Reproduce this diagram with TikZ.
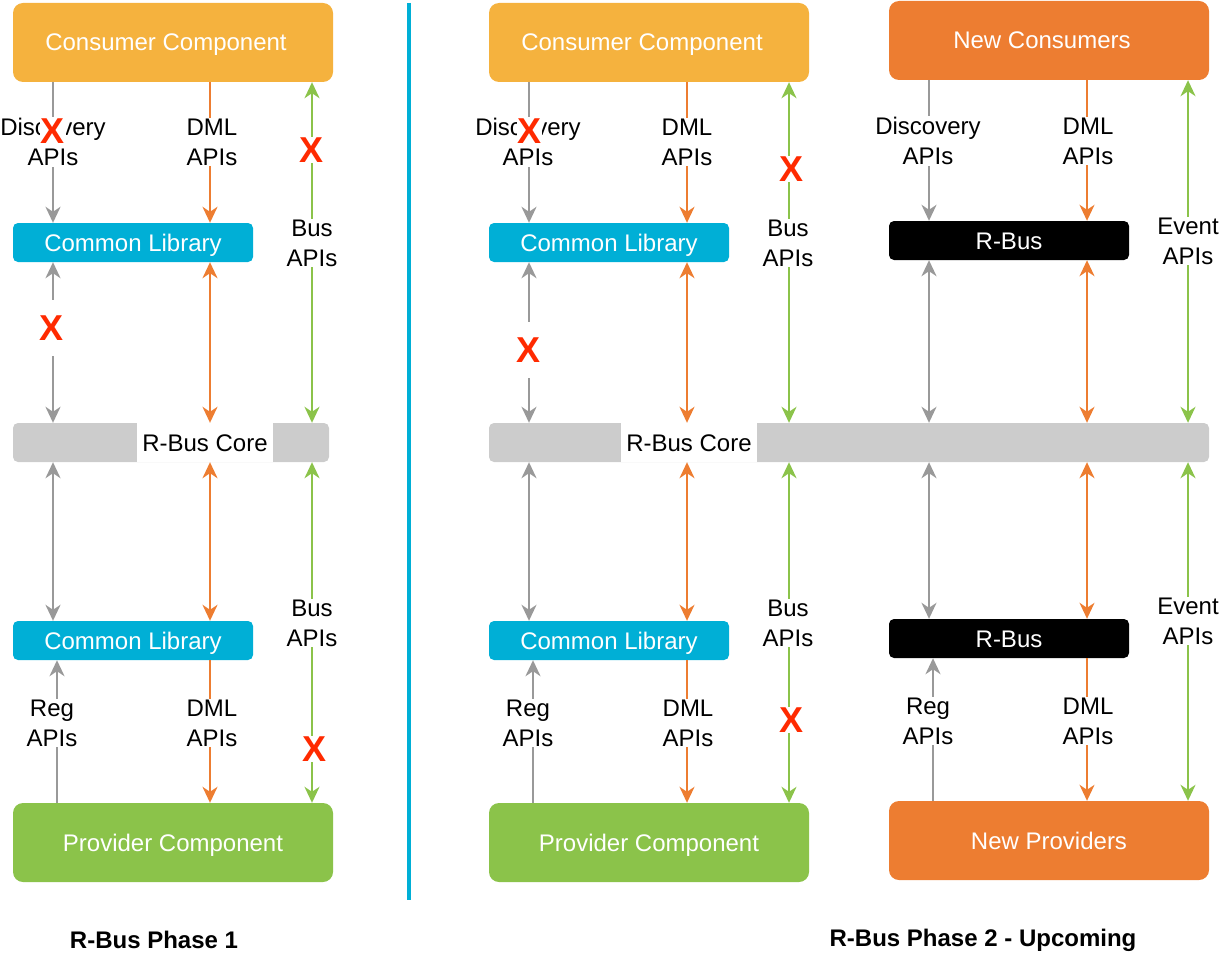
\documentclass[tikz,border=0pt]{standalone}
\usepackage{fontspec}
\setmainfont{Liberation Sans}
\usetikzlibrary{arrows.meta}
\definecolor{consor}{HTML}{F5B23E}
\definecolor{newor}{HTML}{ED7D31}
\definecolor{libblue}{HTML}{00AFD6}
\definecolor{provgreen}{HTML}{8BC34A}
\definecolor{coregray}{HTML}{CCCCCC}
\definecolor{arrgray}{HTML}{999999}
\definecolor{xred}{HTML}{FF2A00}
\begin{document}
\begin{tikzpicture}[x=1pt,y=-1pt,
  >={Stealth[length=16pt,width=15pt,inset=5pt]},
  txt/.style={font=\fontsize{24}{30}\selectfont},
  boxtxt/.style={txt,text height=17pt,text depth=0pt},
  bigbox/.style={boxtxt,rounded corners=10pt,inner sep=0pt,text=white,minimum width=320pt,minimum height=79pt},
  libbox/.style={boxtxt,rounded corners=5pt,inner sep=0pt,text=white,minimum width=240pt,minimum height=39pt},
  corebar/.style={rounded corners=5pt,inner sep=0pt,fill=coregray,minimum height=39pt},
  corelbl/.style={boxtxt,fill=white,inner sep=0pt,minimum width=136pt,minimum height=39pt},
  lbl/.style={txt,fill=white,align=center,inner sep=1pt},
  xm/.style={text=xred,font=\bfseries\fontsize{36}{36}\selectfont,fill=white,inner sep=0.5pt},
  xgap/.style={xm,inner ysep=16pt},
  gl/.style={draw=arrgray,line width=2pt},
  ol/.style={draw=newor,line width=2pt},
  ql/.style={draw=provgreen,line width=2pt},
  ttl/.style={font=\bfseries\fontsize{24}{28}\selectfont}
]
\useasboundingbox (0,0) rectangle (1230,960);

% columns
\coordinate (a1) at (53,0);  \coordinate (b1) at (210,0);  \coordinate (c1) at (312,0);  \coordinate (r1) at (57,0);
\coordinate (a2) at (529,0); \coordinate (b2) at (687,0);  \coordinate (c2) at (789,0);  \coordinate (r2) at (533,0);
\coordinate (a3) at (929,0); \coordinate (b3) at (1087,0); \coordinate (c3) at (1188,0); \coordinate (r3) at (933,0);

% divider
\coordinate (d1) at (409,3); \coordinate (d2) at (409,900);
\draw[libblue,line width=3.5pt] (d1) -- (d2);

% ---------- Phase 1 boxes ----------
\node[bigbox,fill=consor] (cc1) at (173,42.5) {Consumer Component\hspace*{14pt}};
\node[libbox,fill=libblue] (cl1a) at (133,242.5) {Common Library};
\node[corebar,minimum width=316pt] (core1) at (171,442.5) {};
\node[corelbl] (corel1) at (205,442.5) {R-Bus Core};
\node[libbox,fill=libblue] (cl1b) at (133,640.5) {Common Library};
\node[bigbox,fill=provgreen] (pc1) at (173,842.5) {Provider Component};

% ---------- Phase 2 boxes ----------
\node[bigbox,fill=consor] (cc2) at (649,42.5) {Consumer Component\hspace*{14pt}};
\node[libbox,fill=libblue] (cl2a) at (609,242.5) {Common Library};
\node[corebar,minimum width=720pt] (core2) at (849,442.5) {};
\node[corelbl] (corel2) at (689,442.5) {R-Bus Core};
\node[libbox,fill=libblue] (cl2b) at (609,640.5) {Common Library};
\node[bigbox,fill=provgreen] (pc2) at (649,842.5) {Provider Component};
\node[bigbox,fill=newor] (nc) at (1049,40.5) {New Consumers\hspace*{14pt}};
\node[libbox,fill=black] (rb1) at (1009,240.5) {R-Bus};
\node[libbox,fill=black] (rb2) at (1009,638.5) {R-Bus};
\node[bigbox,fill=newor] (np) at (1049,840.5) {New Providers};

% ---------- Phase 1 connectors ----------
\draw[gl,->] (cc1.south -| a1) -- (cl1a.north -| a1);
\draw[ol,->] (cc1.south -| b1) -- (cl1a.north -| b1);
\draw[ql,<->] (cc1.south -| c1) -- (core1.north -| c1);
\draw[gl,<->] (cl1a.south -| a1) -- (core1.north -| a1);
\draw[ol,<->] (cl1a.south -| b1) -- (core1.north -| b1);
\draw[gl,<->] (core1.south -| a1) -- (cl1b.north -| a1);
\draw[ol,<->] (core1.south -| b1) -- (cl1b.north -| b1);
\draw[ql,<->] (core1.south -| c1) -- (pc1.north -| c1);
\draw[gl,->] (pc1.north -| r1) -- (cl1b.south -| r1);
\draw[ol,->] (cl1b.south -| b1) -- (pc1.north -| b1);

\node[lbl] (l1a) at (53,142) {Discovery\\APIs};
\node[lbl] (l1b) at (212,142) {DML\\APIs};
\node[lbl] (l1c) at (312,243) {Bus\\APIs};
\node[lbl] (l1d) at (312,623) {Bus\\APIs};
\node[lbl] (l1e) at (52,723) {Reg\\APIs};
\node[lbl] (l1f) at (212,723) {DML\\APIs};
\node[xm] (x1a) at (53,131) {X};
\node[xm] (x1b) at (312,150) {X};
\node[xgap] (x1c) at (52,328) {X};
\node[xm] (x1d) at (315,749) {X};

% ---------- Phase 2 connectors ----------
\draw[gl,->] (cc2.south -| a2) -- (cl2a.north -| a2);
\draw[ol,->] (cc2.south -| b2) -- (cl2a.north -| b2);
\draw[ql,<->] (cc2.south -| c2) -- (core2.north -| c2);
\draw[gl,<->] (cl2a.south -| a2) -- (core2.north -| a2);
\draw[ol,<->] (cl2a.south -| b2) -- (core2.north -| b2);
\draw[gl,<->] (core2.south -| a2) -- (cl2b.north -| a2);
\draw[ol,<->] (core2.south -| b2) -- (cl2b.north -| b2);
\draw[ql,<->] (core2.south -| c2) -- (pc2.north -| c2);
\draw[gl,->] (pc2.north -| r2) -- (cl2b.south -| r2);
\draw[ol,->] (cl2b.south -| b2) -- (pc2.north -| b2);

\draw[gl,->] (nc.south -| a3) -- (rb1.north -| a3);
\draw[ol,->] (nc.south -| b3) -- (rb1.north -| b3);
\draw[ql,<->] (nc.south -| c3) -- (core2.north -| c3);
\draw[gl,<->] (rb1.south -| a3) -- (core2.north -| a3);
\draw[ol,<->] (rb1.south -| b3) -- (core2.north -| b3);
\draw[gl,<->] (core2.south -| a3) -- (rb2.north -| a3);
\draw[ol,<->] (core2.south -| b3) -- (rb2.north -| b3);
\draw[ql,<->] (core2.south -| c3) -- (np.north -| c3);
\draw[gl,->] (np.north -| r3) -- (rb2.south -| r3);
\draw[ol,->] (rb2.south -| b3) -- (np.north -| b3);

\node[lbl] (l2a) at (528,142) {Discovery\\APIs};
\node[lbl] (l2b) at (687,142) {DML\\APIs};
\node[lbl] (l2c) at (788,243) {Bus\\APIs};
\node[lbl] (l2d) at (788,623) {Bus\\APIs};
\node[lbl] (l2e) at (528,723) {Reg\\APIs};
\node[lbl] (l2f) at (688,723) {DML\\APIs};
\node[xm] (x2a) at (529,131) {X};
\node[xm] (x2b) at (791,169) {X};
\node[xgap] (x2c) at (528,350) {X};
\node[xm] (x2d) at (791,720) {X};

\node[lbl] (l3a) at (928,141) {Discovery\\APIs};
\node[lbl] (l3b) at (1088,141) {DML\\APIs};
\node[lbl] (l3c) at (1188,241) {Event\\APIs};
\node[lbl] (l3d) at (1188,621) {Event\\APIs};
\node[lbl] (l3e) at (928,721) {Reg\\APIs};
\node[lbl] (l3f) at (1088,721) {DML\\APIs};

% titles
\node[ttl] (t1) at (154,940) {R-Bus Phase 1};
\node[ttl] (t2) at (983,940) {R-Bus Phase 2 - Upcoming};
\end{tikzpicture}
\end{document}
